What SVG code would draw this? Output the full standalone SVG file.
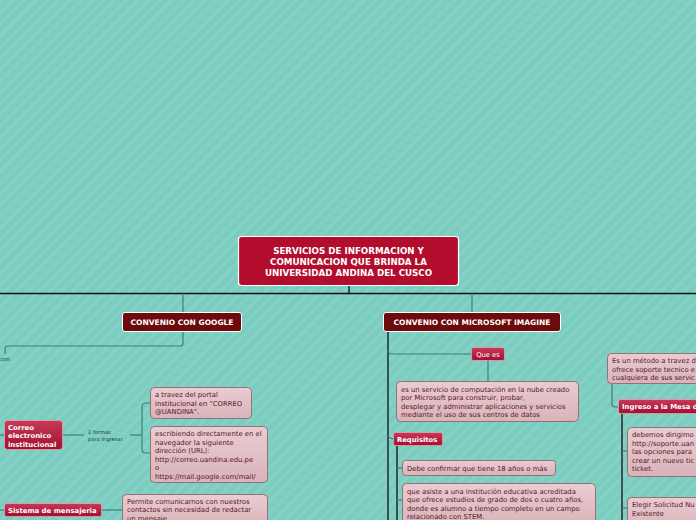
<svg xmlns="http://www.w3.org/2000/svg" width="696" height="520" viewBox="0 0 696 520">
<defs>
<pattern id="stripes" width="8" height="8" patternUnits="userSpaceOnUse" patternTransform="rotate(45)">
<rect width="8" height="8" fill="#7ccdc0"/>
<rect width="3" height="8" fill="#84d2c6"/>
</pattern>
<linearGradient id="gRed" x1="0" y1="0" x2="0" y2="1">
<stop offset="0" stop-color="#c83a58"/>
<stop offset="1" stop-color="#a10f30"/>
</linearGradient>
<linearGradient id="gPink" x1="0" y1="0" x2="0" y2="1">
<stop offset="0" stop-color="#e9ccd1"/>
<stop offset="1" stop-color="#d9b3ba"/>
</linearGradient>
</defs>
<style>
.title{fill:#b30d2e;stroke:#fff;stroke-width:1.2}
.dark{fill:#6d0a0c;stroke:#fff;stroke-width:1}
.red{fill:url(#gRed);stroke:#e8a0b0;stroke-width:0.8}
.pink{fill:url(#gPink);stroke:#8e5a66;stroke-width:0.8}
.tw{font-family:"DejaVu Sans",Verdana,sans-serif;fill:#fff;font-weight:bold}
.tn{font-family:"DejaVu Sans",Verdana,sans-serif;fill:#fff;font-size:6.8px}
.tp{font-family:"DejaVu Sans",Verdana,sans-serif;fill:#5a1628;font-size:6.85px}
.ts{font-family:"DejaVu Sans",Verdana,sans-serif;fill:#1e3a36;font-size:5.2px}
.cb{fill:none;stroke:#111;stroke-width:1.3}
.ct{fill:none;stroke:#3f7f77;stroke-width:1.2}
</style>
<rect width="696" height="520" fill="url(#stripes)"/>
<g id="connectors">
<path class="cb" d="M0 293.5H696"/>
<path class="cb" d="M349 286V293.5"/>
<path class="ct" d="M183 293.5V312"/>
<path class="ct" d="M472 293.5V312"/>
<path class="ct" d="M183 332V343Q183 346 180 346H8Q5 346 5 349V354"/>
<path class="cb" d="M388 332V520"/>
<path class="ct" d="M388 350Q388 354 392 354H471"/>
<path class="ct" d="M488 360V381"/>
<path class="ct" d="M388 436Q389 438 393 439"/>
<path class="cb" d="M397 446V520"/>
<path class="ct" d="M397 468H402"/>
<path class="ct" d="M397 500H402"/>
<path class="ct" d="M612 384V404Q612 407 615 407H618"/>
<path class="cb" d="M622 413V520"/>
<path class="ct" d="M622 451H627"/>
<path class="ct" d="M622 508H627"/>
<path class="ct" d="M0 435H4"/>
<path class="ct" d="M63 435H84"/>
<path class="ct" d="M130 435H142"/>
<path class="ct" d="M150 403H146Q142 403 142 407V449Q142 453 146 453H150"/>
<path class="ct" d="M0 510H4"/>
<path class="ct" d="M101 510H122"/>
</g>
<g id="title">
<rect class="title" x="238.5" y="236.5" width="220" height="49" rx="3"/>
<text class="tw" font-size="8.7" text-anchor="middle"><tspan x="348.5" y="254">SERVICIOS DE INFORMACION Y</tspan><tspan x="348.5" y="265">COMUNICACION QUE BRINDA LA</tspan><tspan x="348.5" y="276">UNIVERSIDAD ANDINA DEL CUSCO</tspan></text>
</g>
<g id="google">
<rect class="dark" x="122.5" y="312.5" width="119" height="19" rx="2.5"/>
<text class="tw" font-size="7.5" x="182" y="325" text-anchor="middle">CONVENIO CON GOOGLE</text>
</g>
<g id="com-label"><text class="ts" x="-1" y="361">com</text></g>
<g id="microsoft">
<rect class="dark" x="383.5" y="312.5" width="177" height="19" rx="2.5"/>
<text class="tw" font-size="7.5" x="472" y="325" text-anchor="middle">CONVENIO CON MICROSOFT IMAGINE</text>
</g>
<g id="quees">
<rect class="red" x="471.5" y="347.5" width="33" height="13" rx="2"/>
<text class="tn" x="488" y="356.5" text-anchor="middle">Que es</text>
</g>
<g id="quees-desc">
<rect class="pink" x="396.5" y="381.5" width="182" height="40" rx="4"/>
<text class="tp"><tspan x="401" y="391.5">es un servicio de computación en la nube creado</tspan><tspan x="401" y="400">por Microsoft para construir, probar,</tspan><tspan x="401" y="408.5">desplegar y administrar aplicaciones y servicios</tspan><tspan x="401" y="417">mediante el uso de sus centros de datos</tspan></text>
</g>
<g id="requisitos">
<rect class="red" x="393.5" y="432.5" width="49" height="13" rx="2"/>
<text class="tw" font-size="6.8" x="397" y="441.5">Requisitos</text>
</g>
<g id="req1">
<rect class="pink" x="402.5" y="460.5" width="153" height="15" rx="3"/>
<text class="tp" x="407" y="470.5">Debe confirmar que tiene 18 años o más</text>
</g>
<g id="req2">
<rect class="pink" x="402.5" y="483.5" width="193" height="42" rx="4"/>
<text class="tp"><tspan x="407" y="493.5">que asiste a una institución educativa acreditada</tspan><tspan x="407" y="502">que ofrece estudios de grado de dos o cuatro años,</tspan><tspan x="407" y="510.5">donde es alumno a tiempo completo en un campo</tspan><tspan x="407" y="519">relacionado con STEM.</tspan></text>
</g>
<g id="metodo">
<rect class="pink" x="607.5" y="353.5" width="100" height="30" rx="4"/>
<text class="tp"><tspan x="612" y="363">Es un método a travez d</tspan><tspan x="612" y="371.5">ofrece soporte tecnico e</tspan><tspan x="612" y="380">cualquiera de sus servic</tspan></text>
</g>
<g id="ingreso">
<rect class="red" x="618.5" y="399.5" width="90" height="14" rx="2"/>
<text class="tw" font-size="6.9" x="622" y="409">Ingreso a la Mesa d</text>
</g>
<g id="ing1">
<rect class="pink" x="627.5" y="427.5" width="80" height="49" rx="4"/>
<text class="tp"><tspan x="632" y="437">debemos dirigimo</tspan><tspan x="632" y="445.5">http://soporte.uan</tspan><tspan x="632" y="454">las opciones para</tspan><tspan x="632" y="462.5">crear un nuevo tic</tspan><tspan x="632" y="471">ticket.</tspan></text>
</g>
<g id="ing2">
<rect class="pink" x="627.5" y="497.5" width="80" height="30" rx="4"/>
<text class="tp"><tspan x="632" y="507">Elegir Solicitud Nu</tspan><tspan x="632" y="515.5">Existente</tspan></text>
</g>
<g id="correo">
<rect class="red" x="4.5" y="420.5" width="58" height="29" rx="3"/>
<text class="tw" font-size="6.9"><tspan x="8" y="429.5">Correo</tspan><tspan x="8" y="438">electronico</tspan><tspan x="8" y="446.5">institucional</tspan></text>
</g>
<g id="formas-label">
<text class="ts"><tspan x="88" y="433.5">2 formas</tspan><tspan x="88" y="441">para ingresar</tspan></text>
</g>
<g id="correo1">
<rect class="pink" x="150.5" y="387.5" width="101" height="31" rx="4"/>
<text class="tp"><tspan x="155" y="397">a travez del portal</tspan><tspan x="155" y="405.5">institucional en "CORREO</tspan><tspan x="155" y="414">@UANDINA".</tspan></text>
</g>
<g id="correo2">
<rect class="pink" x="150.5" y="426.5" width="117" height="56" rx="4"/>
<text class="tp"><tspan x="155" y="436">escribiendo directamente en el</tspan><tspan x="155" y="444.5">navegador la siguiente</tspan><tspan x="155" y="453">dirección (URL):</tspan><tspan x="155" y="461.5">http://correo.uandina.edu.pe</tspan><tspan x="155" y="470">o</tspan><tspan x="155" y="478.5">https://mail.google.com/mail/</tspan></text>
</g>
<g id="mensajeria">
<rect class="red" x="4.5" y="503.5" width="97" height="13" rx="2"/>
<text class="tw" font-size="6.9" x="8" y="512.5">Sistema de mensajeria</text>
</g>
<g id="mensaje-desc">
<rect class="pink" x="122.5" y="494.5" width="145" height="32" rx="4"/>
<text class="tp"><tspan x="127" y="503.5">Permite comunicarnos con nuestros</tspan><tspan x="127" y="512">contactos sin necesidad de redactar</tspan><tspan x="127" y="520.5">un mensaje</tspan></text>
</g>
</svg>
